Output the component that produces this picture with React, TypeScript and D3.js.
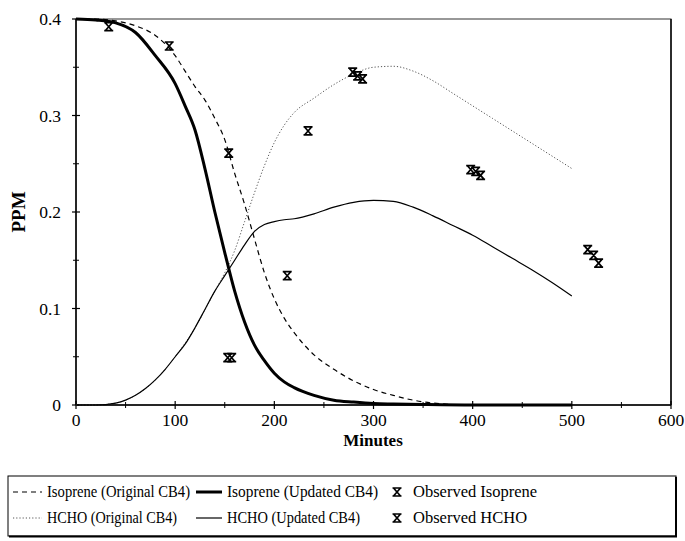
import React from "react";
import * as d3 from "d3";

// Model runs: isoprene decay and formaldehyde formation (minutes, ppm)
const isoOrigT = [0, 20, 40, 60, 80, 100, 110, 120, 130, 140, 150, 160, 170, 180, 190, 200, 210, 220, 240, 260, 280, 300, 320, 340, 360, 400, 450, 500];
const isoOrigV = [0.4, 0.4, 0.398, 0.393, 0.383, 0.362, 0.346, 0.33, 0.316, 0.297, 0.275, 0.24, 0.208, 0.172, 0.137, 0.11, 0.09, 0.075, 0.052, 0.037, 0.025, 0.016, 0.01, 0.005, 0.002, 0, 0, 0];

const isoUpdT = [0, 20, 40, 60, 80, 100, 110, 120, 130, 140, 150, 160, 170, 180, 190, 200, 210, 220, 240, 260, 280, 300, 320, 350, 400, 450, 500];
const isoUpdV = [0.4, 0.399, 0.396, 0.386, 0.362, 0.333, 0.31, 0.285, 0.245, 0.2, 0.158, 0.118, 0.086, 0.062, 0.046, 0.033, 0.024, 0.018, 0.01, 0.005, 0.003, 0.0015, 0.001, 0.0005, 0, 0, 0];

const hchoOrigT = [0, 20, 40, 60, 80, 100, 120, 140, 150, 160, 170, 180, 190, 200, 210, 220, 240, 260, 280, 300, 320, 340, 360, 380, 400, 420, 440, 460, 480, 500];
const hchoOrigV = [0, 0, 0.002, 0.01, 0.026, 0.05, 0.08, 0.118, 0.137, 0.16, 0.19, 0.22, 0.248, 0.272, 0.29, 0.303, 0.318, 0.332, 0.343, 0.35, 0.351, 0.346, 0.336, 0.323, 0.31, 0.297, 0.284, 0.271, 0.258, 0.245];

const hchoUpdT = [0, 20, 40, 50, 60, 70, 80, 90, 100, 110, 120, 130, 140, 150, 160, 170, 180, 190, 200, 210, 220, 240, 260, 280, 300, 320, 340, 360, 380, 400, 420, 440, 460, 480, 500];
const hchoUpdV = [0, 0, 0.002, 0.005, 0.01, 0.017, 0.026, 0.037, 0.05, 0.063, 0.08, 0.099, 0.118, 0.134, 0.15, 0.166, 0.18, 0.187, 0.19, 0.192, 0.193, 0.198, 0.205, 0.21, 0.212, 0.211, 0.205, 0.196, 0.186, 0.176, 0.164, 0.152, 0.14, 0.127, 0.113];

// Chamber measurements
const obsIsoT = [33, 94, 154, 213];
const obsIsoV = [0.392, 0.372, 0.261, 0.134];
const obsHchoT = [153, 157, 234, 279, 284, 289, 398, 403, 408, 516, 522, 527];
const obsHchoV = [0.049, 0.049, 0.284, 0.345, 0.341, 0.338, 0.244, 0.242, 0.238, 0.161, 0.155, 0.147];

const xTicks = [0, 100, 200, 300, 400, 500, 600];
const yTicks = [0, 0.1, 0.2, 0.3, 0.4];
const yTickLabels = ["0", "0.1", "0.2", "0.3", "0.4"];

const legendRow1 = ["Isoprene (Original CB4)", "Isoprene (Updated CB4)", "Observed Isoprene"];
const legendRow2 = ["HCHO (Original CB4)", "HCHO (Updated CB4)", "Observed HCHO"];

const W = 685;
const H = 541;
const left = 76, right = 671, top = 19, bottom = 405;
const FONT = "'Liberation Serif', 'Times New Roman', serif";

const hourglass = "M-4.5,-4 H4.5 M-4.5,4 H4.5 M-3.5,-4 L3.5,4 M3.5,-4 L-3.5,4";

export default function App() {
  const x = d3.scaleLinear().domain([0, 600]).range([left, right]);
  const y = d3.scaleLinear().domain([0, 0.4]).range([bottom, top]);

  const path = (ts: number[], vs: number[]) =>
    d3
      .line<number>()
      .x((_, i) => x(ts[i]))
      .y((v) => y(v))
      .curve(d3.curveMonotoneX)(vs) || "";

  const xMinor = d3.range(50, 600, 100);
  const yMinor = [0.05, 0.15, 0.25, 0.35];

  // legend layout; the two model entries are condensed to fit their columns
  const rowY = [497, 523];
  const sampleX = [[13, 42], [196, 222]];
  const textX = [47, 227, 413];
  const widths1 = [143, 151];
  const widths2 = [130, 133];
  const markX = 397;

  return (
    <svg width={W} height={H} style={{ position: "absolute", left: 0, top: 0, background: "#fff" }} fontFamily={FONT}>
      <rect x={0} y={0} width={W} height={H} fill="#fff" />
      {/* plot frame */}
      <rect x={left} y={top} width={right - left} height={bottom - top} fill="none" stroke="#333" strokeWidth={1} />
      <line x1={right} x2={right} y1={top} y2={bottom} stroke="#111" strokeWidth={1.6} />
      <line x1={left} x2={right} y1={bottom} y2={bottom} stroke="#000" strokeWidth={1.5} />
      <line x1={left} x2={left} y1={top} y2={bottom} stroke="#000" strokeWidth={1.5} />

      {/* x ticks */}
      {xTicks.map((t) => (
        <g key={"xt" + t}>
          <line x1={x(t)} x2={x(t)} y1={bottom - 4} y2={bottom + 4} stroke="#000" strokeWidth={1.2} />
          <text x={x(t)} y={426} textAnchor="middle" fontSize={17.5}>{t}</text>
        </g>
      ))}
      {xMinor.map((t) => (
        <line key={"xm" + t} x1={x(t)} x2={x(t)} y1={bottom - 3} y2={bottom + 3} stroke="#000" strokeWidth={1} />
      ))}
      {/* y ticks */}
      {yTicks.map((t, i) => (
        <g key={"yt" + t}>
          <line x1={left - 4} x2={left + 4} y1={y(t)} y2={y(t)} stroke="#000" strokeWidth={1.2} />
          <text x={61} y={y(t) + 6} textAnchor="end" fontSize={17.5}>{yTickLabels[i]}</text>
        </g>
      ))}
      {yMinor.map((t) => (
        <line key={"ym" + t} x1={left - 3} x2={left + 3} y1={y(t)} y2={y(t)} stroke="#000" strokeWidth={1} />
      ))}

      {/* axis titles */}
      <text x={373} y={446} textAnchor="middle" fontSize={17} fontWeight="bold">Minutes</text>
      <text transform={`translate(25,${(top + bottom) / 2}) rotate(-90)`} textAnchor="middle" fontSize={19} fontWeight="bold">PPM</text>

      {/* model curves */}
      <path d={path(hchoOrigT, hchoOrigV)} fill="none" stroke="#555" strokeWidth={1} strokeDasharray="1.2,2" />
      <path d={path(hchoUpdT, hchoUpdV)} fill="none" stroke="#000" strokeWidth={1.2} />
      <path d={path(isoOrigT, isoOrigV)} fill="none" stroke="#000" strokeWidth={1.2} strokeDasharray="5,4" />
      <path d={path(isoUpdT, isoUpdV)} fill="none" stroke="#000" strokeWidth={3} />

      {/* observations */}
      {obsIsoT.map((t, i) => (
        <path key={"oi" + i} d={hourglass} transform={`translate(${x(t)},${y(obsIsoV[i])})`} fill="none" stroke="#000" strokeWidth={1.7} />
      ))}
      {obsHchoT.map((t, i) => (
        <path key={"oh" + i} d={hourglass} transform={`translate(${x(t)},${y(obsHchoV[i])})`} fill="none" stroke="#000" strokeWidth={1.7} />
      ))}

      {/* legend */}
      <rect x={8} y={476} width={668} height={60} fill="#fff" stroke="#000" strokeWidth={1} />
      <line x1={676} x2={676} y1={477} y2={537} stroke="#000" strokeWidth={2} />
      <line x1={9} x2={677} y1={536.5} y2={536.5} stroke="#000" strokeWidth={2} />

      <line x1={sampleX[0][0]} x2={sampleX[0][1]} y1={rowY[0] - 5} y2={rowY[0] - 5} stroke="#000" strokeWidth={1.2} strokeDasharray="5,4" />
      <line x1={sampleX[1][0]} x2={sampleX[1][1]} y1={rowY[0] - 5} y2={rowY[0] - 5} stroke="#000" strokeWidth={3} />
      <path d={hourglass} transform={`translate(${markX},${rowY[0] - 5})`} fill="none" stroke="#000" strokeWidth={1.7} />
      {legendRow1.map((s, i) =>
        i < 2 ? (
          <text key={"l1" + i} x={textX[i]} y={rowY[0]} fontSize={16} textLength={widths1[i]} lengthAdjust="spacingAndGlyphs">{s}</text>
        ) : (
          <text key={"l1" + i} x={textX[i]} y={rowY[0]} fontSize={16.5}>{s}</text>
        )
      )}

      <line x1={sampleX[0][0]} x2={sampleX[0][1]} y1={rowY[1] - 5} y2={rowY[1] - 5} stroke="#555" strokeWidth={1} strokeDasharray="1.2,2" />
      <line x1={sampleX[1][0]} x2={sampleX[1][1]} y1={rowY[1] - 5} y2={rowY[1] - 5} stroke="#000" strokeWidth={1.2} />
      <path d={hourglass} transform={`translate(${markX},${rowY[1] - 5})`} fill="none" stroke="#000" strokeWidth={1.7} />
      {legendRow2.map((s, i) =>
        i < 2 ? (
          <text key={"l2" + i} x={textX[i]} y={rowY[1]} fontSize={16} textLength={widths2[i]} lengthAdjust="spacingAndGlyphs">{s}</text>
        ) : (
          <text key={"l2" + i} x={textX[i]} y={rowY[1]} fontSize={16.5}>{s}</text>
        )
      )}
    </svg>
  );
}
